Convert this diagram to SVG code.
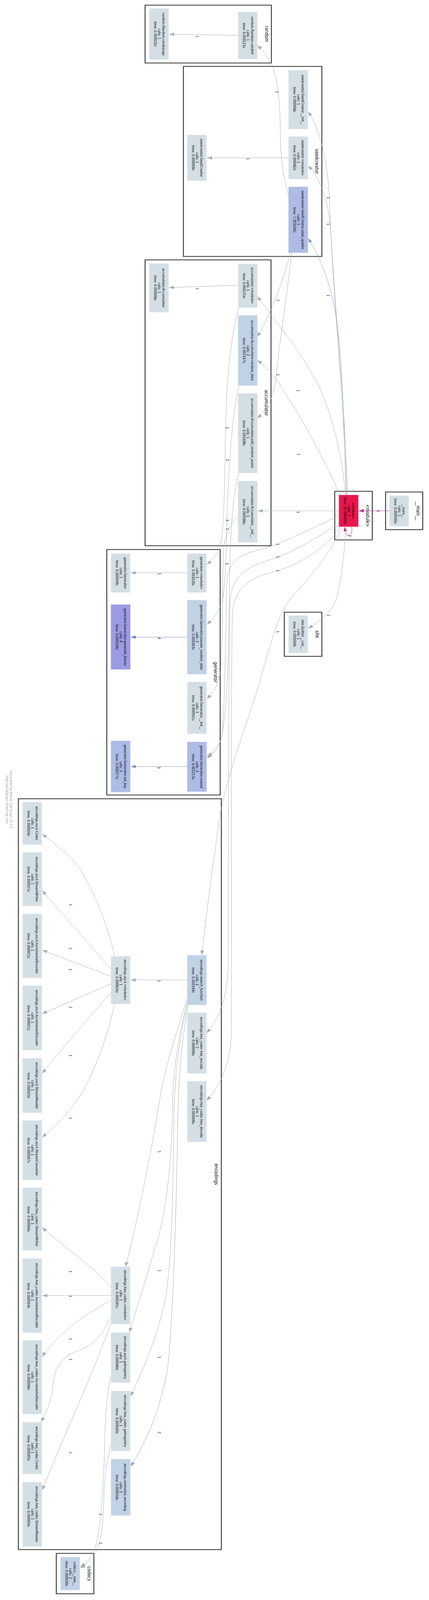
<svg xmlns="http://www.w3.org/2000/svg" width="1097" height="4671" viewBox="0 0 1097 4671">
<style>
.cl{fill:#fff;stroke:#3c3c3c;stroke-width:2.4}
.ct{font-family:"DejaVu Sans",Verdana,sans-serif;font-size:12.2px;text-anchor:middle;fill:#000}
.nt{font-family:"DejaVu Sans",Verdana,sans-serif;font-size:9px;text-anchor:middle;fill:#000}
.c0{fill:#d3dfe5;stroke:#e1e9ed;stroke-width:1}
.c1{fill:#c1d2e6;stroke:#d0dcec;stroke-width:1}
.c2{fill:#adbbe6;stroke:#bcc7ec;stroke-width:1}
.c3{fill:#9b9be3;stroke:#aaaaea;stroke-width:1}
.c4{fill:#e8174b;stroke:#ee3c66;stroke-width:1}
.e{fill:none;stroke:#a6afb4;stroke-width:1;marker-end:url(#ag)}
.em{stroke:#b4359c;marker-end:url(#am)}
.er{stroke:#b32373;marker-end:url(#ar)}
.eb{stroke:#8d9bc4;marker-end:url(#ab)}
.ep{stroke:#7f80c6;marker-end:url(#ap)}
.es{stroke:#8894b8;marker-end:url(#as)}
.en{stroke:#98a4ba;marker-end:url(#an)}
.lt{font-family:"DejaVu Sans",Verdana,sans-serif;font-size:9px;text-anchor:middle;fill:#000}
.gl{font-family:"DejaVu Sans",Verdana,sans-serif;font-size:8.6px;text-anchor:middle;fill:#9a9a9a}
</style>
<defs>
<marker id="ag" viewBox="0 0 13 10" refX="13" refY="5" markerWidth="13" markerHeight="10" markerUnits="userSpaceOnUse" orient="auto"><path d="M0,0 L13,5 L0,10 z" fill="#a6afb4"/></marker>
<marker id="am" viewBox="0 0 13 10" refX="13" refY="5" markerWidth="13" markerHeight="10" markerUnits="userSpaceOnUse" orient="auto"><path d="M0,0 L13,5 L0,10 z" fill="#b4359c"/></marker>
<marker id="ar" viewBox="0 0 13 10" refX="13" refY="5" markerWidth="12" markerHeight="9" markerUnits="userSpaceOnUse" orient="auto"><path d="M0,0 L13,5 L0,10 z" fill="#b32373"/></marker>
<marker id="ab" viewBox="0 0 13 10" refX="13" refY="5" markerWidth="13" markerHeight="10" markerUnits="userSpaceOnUse" orient="auto"><path d="M0,0 L13,5 L0,10 z" fill="#8d9bc4"/></marker>
<marker id="ap" viewBox="0 0 13 10" refX="13" refY="5" markerWidth="13" markerHeight="10" markerUnits="userSpaceOnUse" orient="auto"><path d="M0,0 L13,5 L0,10 z" fill="#7f80c6"/></marker>
<marker id="as" viewBox="0 0 13 10" refX="13" refY="5" markerWidth="13" markerHeight="10" markerUnits="userSpaceOnUse" orient="auto"><path d="M0,0 L13,5 L0,10 z" fill="#8894b8"/></marker>
<marker id="an" viewBox="0 0 13 10" refX="13" refY="5" markerWidth="13" markerHeight="10" markerUnits="userSpaceOnUse" orient="auto"><path d="M0,0 L13,5 L0,10 z" fill="#98a4ba"/></marker>
</defs>
<rect x="0" y="0" width="1097" height="4671" fill="#fff"/>
<g id="diagram" transform="scale(1,0.8765)">

<g id="clusters">
<g id="cluster_random"><rect class="cl" x="371" y="15" width="323" height="169"/><text class="ct" transform="translate(677.6,99) rotate(90)">random</text></g>
<g id="cluster_seedcreator"><rect class="cl" x="469" y="194" width="354" height="555"/><text class="ct" transform="translate(805.6,471.5) rotate(90)">seedcreator</text></g>
<g id="cluster_accumulator"><rect class="cl" x="371" y="759" width="322" height="835"/><text class="ct" transform="translate(676.6,1176.5) rotate(90)">accumulator</text></g>
<g id="cluster_generator"><rect class="cl" x="273" y="1605" width="290" height="717"/><text class="ct" transform="translate(546.6,1963.5) rotate(90)">generator</text></g>
<g id="cluster_encodings"><rect class="cl" x="47" y="2333" width="519" height="2193"/><text class="ct" transform="translate(548.6,3429.5) rotate(90)">encodings</text></g>
<g id="cluster_codecs"><rect class="cl" x="144" y="4537" width="96" height="118"/><text class="ct" transform="translate(223.6,4596) rotate(90)">codecs</text></g>
<g id="cluster_site"><rect class="cl" x="727" y="1788" width="96" height="129"/><text class="ct" transform="translate(806.6,1852.5) rotate(90)">site</text></g>
<g id="cluster_module"><rect class="cl" x="856" y="1435" width="96" height="142"/><text class="ct" transform="translate(935.6,1506) rotate(90)">&lt;module&gt;</text></g>
<g id="cluster_main"><rect class="cl" x="986" y="1437" width="95" height="110"/><text class="ct" transform="translate(1064.6,1492) rotate(90)">__main__</text></g>
</g>

<g id="connectors">
<path class="e em" d="M996,1492 L917,1492"/>
<path class="e er" d="M899,1538 C902,1552 898,1564 890,1564 C885,1564 883,1556 882,1540"/>
<path class="e" d="M867,1492 L659,1492"/>
<path class="e" d="M889,1446 C884,1200 848,800 843,600 C841,500 825,390 788,326"/>
<path class="e" d="M887,1446 C880,1200 852,850 847,700 C843,600 825,530 788,484"/>
<path class="e eb" d="M885,1446 C880,1250 876,1050 860,930 C845,820 815,745 788,696"/>
<path class="e" d="M883,1446 C876,1330 850,1220 822,1145 C790,1060 720,960 658,866"/>
<path class="e" d="M869,1446 C830,1340 770,1220 730,1150 C710,1110 690,1080 658,1052"/>
<path class="e" d="M738,573 C725,520 717,460 717,400 C717,320 712,250 700,205 C690,172 676,152 658,132"/>
<path class="e" d="M742,738 C730,800 700,900 658,984"/>
<path class="e" d="M746,738 C735,850 715,1000 705,1110 C700,1160 682,1195 658,1222"/>
<path class="e" d="M609,103 L432,100"/>
<path class="e" d="M738,461 L529,461"/>
<path class="e" d="M609,833 L432,840"/>
<path class="e" d="M479,1673 L334,1673"/>
<path class="e ep" d="M479,1861 L334,1861"/>
<path class="e es" d="M479,2239 L334,2239"/>
<path class="e" d="M479,2862 L334,2862"/>
<path class="e" d="M884,1540 C881,1620 872,1700 860,1750 C850,1785 822,1810 788,1836"/>
<path class="e" d="M611,898 C585,1000 578,1150 576,1300 C574,1450 572,1560 562,1600 C554,1622 542,1637 529,1649"/>
<path class="e" d="M611,1126 C595,1200 585,1350 581,1500 C578,1620 577,1690 571,1740 C565,1780 548,1805 529,1824"/>
<path class="e" d="M610,1381 C595,1450 589,1550 587,1700 C585,1900 582,2100 563,2165 C554,2190 542,2203 529,2215"/>
<path class="e" d="M608,1508 C590,1530 573,1560 571,1620 C569,1750 569,1900 564,1960 C559,2000 546,2022 529,2041"/>
<path class="e" d="M867,1506 C820,1530 720,1590 660,1607 C610,1620 584,1640 580,1700 C576,1900 575,2100 565,2160 C558,2185 546,2200 529,2208"/>
<path class="e" d="M867,1526 C840,1550 760,1610 690,1635 C620,1660 592,1690 588,1760 C584,2000 584,2600 584,2800 C584,2900 565,2970 528,3017"/>
<path class="e" d="M870,1538 C845,1590 770,1650 700,1670 C630,1690 598,1720 594,1800 C590,2100 592,2800 592,3000 C592,3100 566,3170 528,3214"/>
<path class="e" d="M874,1540 C850,1610 790,1690 745,1745 C712,1790 692,1880 672,1960 C645,2080 580,2250 560,2400 C548,2500 530,2640 516,2789"/>
<path class="e" d="M293,2793 C275,2700 240,2600 200,2530 C170,2490 135,2460 108,2436"/>
<path class="e" d="M285,2832 C230,2760 160,2670 108,2601"/>
<path class="e" d="M284,2852 L108,2775"/>
<path class="e" d="M284,2873 L108,2961"/>
<path class="e" d="M285,2897 C230,2970 160,3060 108,3135"/>
<path class="e" d="M293,2933 C270,3050 230,3170 180,3240 C160,3270 132,3296 108,3322"/>
<path class="e" d="M479,2913 C460,2990 425,3100 410,3200 C390,3350 345,3600 321,3699"/>
<path class="e" d="M481,2915 C462,3000 445,3100 442,3200 C440,3400 425,3550 395,3650 C375,3730 350,3820 331,3891"/>
<path class="e" d="M483,2915 C465,3000 448,3100 445,3250 C442,3500 440,3650 425,3780 C405,3900 370,3990 334,4078"/>
<path class="e en" d="M485,2914 C470,3000 458,3100 455,3250 C450,3600 440,3900 428,4000 C410,4120 370,4220 334,4283"/>
<path class="e" d="M284,3759 C240,3700 160,3640 108,3585"/>
<path class="e" d="M284,3784 L108,3784"/>
<path class="e" d="M284,3798 C230,3830 150,3890 108,3962"/>
<path class="e" d="M284,3845 C260,3900 240,3930 200,3945 C150,3965 140,4000 135,4050 C130,4100 116,4130 105,4153"/>
<path class="e" d="M288,3850 C250,3980 150,4230 108,4352"/>
<path class="e" d="M284,4018 C275,4060 270,4110 268,4200 C265,4350 258,4450 245,4515 C237,4545 225,4563 205,4576"/>
<path class="e" d="M285,4213 C275,4260 268,4300 266,4360 C264,4440 262,4480 250,4520 C240,4550 226,4568 205,4580"/>

<g id="edge-labels">
<text class="lt" transform="translate(963.8,1493) rotate(90)">1</text>
<text class="lt" transform="translate(890.8,1565) rotate(90)">2</text>
<text class="lt" transform="translate(758.8,1496) rotate(90)">1</text>
<text class="lt" transform="translate(835.8,578) rotate(90)">1</text>
<text class="lt" transform="translate(835.8,655) rotate(90)">1</text>
<text class="lt" transform="translate(835.8,863) rotate(90)">1</text>
<text class="lt" transform="translate(758.8,1141) rotate(90)">1</text>
<text class="lt" transform="translate(759.8,1327) rotate(90)">1</text>
<text class="lt" transform="translate(704.8,269) rotate(90)">1</text>
<text class="lt" transform="translate(706.8,877) rotate(90)">1</text>
<text class="lt" transform="translate(706.8,1095) rotate(90)">1</text>
<text class="lt" transform="translate(500.8,107) rotate(90)">1</text>
<text class="lt" transform="translate(630.8,464) rotate(90)">1</text>
<text class="lt" transform="translate(500.8,843) rotate(90)">1</text>
<text class="lt" transform="translate(403.8,1676) rotate(90)">1</text>
<text class="lt" transform="translate(403.8,1864) rotate(90)">4</text>
<text class="lt" transform="translate(402.8,2242) rotate(90)">3</text>
<text class="lt" transform="translate(402.8,2865) rotate(90)">1</text>
<text class="lt" transform="translate(836.8,1797) rotate(90)">1</text>
<text class="lt" transform="translate(706.8,1590) rotate(90)">1</text>
<text class="lt" transform="translate(706.8,1627) rotate(90)">1</text>
<text class="lt" transform="translate(706.8,1667) rotate(90)">1</text>
<text class="lt" transform="translate(706.8,1845) rotate(90)">1</text>
<text class="lt" transform="translate(577.8,1250) rotate(90)">1</text>
<text class="lt" transform="translate(577.8,1343) rotate(90)">2</text>
<text class="lt" transform="translate(577.8,1520) rotate(90)">2</text>
<text class="lt" transform="translate(577.8,1545) rotate(90)">1</text>
<text class="lt" transform="translate(576.8,1647) rotate(90)">1</text>
<text class="lt" transform="translate(176.8,2643) rotate(90)">1</text>
<text class="lt" transform="translate(176.8,2770) rotate(90)">1</text>
<text class="lt" transform="translate(176.8,2832) rotate(90)">1</text>
<text class="lt" transform="translate(176.8,2942) rotate(90)">1</text>
<text class="lt" transform="translate(176.8,3083) rotate(90)">1</text>
<text class="lt" transform="translate(176.8,3266) rotate(90)">1</text>
<text class="lt" transform="translate(176.8,3714) rotate(90)">1</text>
<text class="lt" transform="translate(176.8,3786) rotate(90)">1</text>
<text class="lt" transform="translate(176.8,3911) rotate(90)">1</text>
<text class="lt" transform="translate(176.8,3971) rotate(90)">1</text>
<text class="lt" transform="translate(176.8,4243) rotate(90)">1</text>
<text class="lt" transform="translate(403.8,3364) rotate(90)">1</text>
<text class="lt" transform="translate(403.8,3711) rotate(90)">1</text>
<text class="lt" transform="translate(403.8,3964) rotate(90)">1</text>
<text class="lt" transform="translate(403.8,4184) rotate(90)">2</text>
<text class="lt" transform="translate(253.8,4423) rotate(90)">1</text>
<text class="lt" transform="translate(253.8,4507) rotate(90)">1</text>
</g>
</g>

<g id="nodes">
<g id="n_main"><rect class="c0" x="996" y="1448" width="49" height="89"/><text class="nt" transform="translate(1028.8,1492.5) rotate(90)"><tspan x="0">__main__</tspan><tspan x="0" dy="10.5">calls: 1</tspan><tspan x="0" dy="10.5">time: 0.000000s</tspan></text></g>
<g id="n_module"><rect class="c4" x="867" y="1446" width="49" height="92"/><text class="nt" transform="translate(899.8,1492) rotate(90)"><tspan x="0">&lt;module&gt;</tspan><tspan x="0" dy="10.5">calls: 3</tspan><tspan x="0" dy="10.5">time: 32.084920s</tspan></text></g>
<g id="n_site_call"><rect class="c0" x="738" y="1798" width="49" height="109"/><text class="nt" transform="translate(770.8,1852.5) rotate(90)"><tspan x="0">site.Quitter.__call__</tspan><tspan x="0" dy="10.5">calls: 1</tspan><tspan x="0" dy="10.5">time: 0.000009s</tspan></text></g>
<g id="n_sc_init"><rect class="c0" x="738" y="205" width="49" height="172"/><text class="nt" transform="translate(770.8,291) rotate(90)"><tspan x="0">seedcreator.SeedCreator.__init__</tspan><tspan x="0" dy="10.5">calls: 1</tspan><tspan x="0" dy="10.5">time: 0.000008s</tspan></text></g>
<g id="n_sc_module"><rect class="c0" x="738" y="399" width="49" height="124"/><text class="nt" transform="translate(770.8,461) rotate(90)"><tspan x="0">seedcreator.&lt;module&gt;</tspan><tspan x="0" dy="10.5">calls: 1</tspan><tspan x="0" dy="10.5">time: 0.000082s</tspan></text></g>
<g id="n_sc_update"><rect class="c2" x="738" y="546" width="49" height="192"/><text class="nt" transform="translate(770.8,642) rotate(90)"><tspan x="0">seedcreator.SeedCreator.seed_update</tspan><tspan x="0" dy="10.5">calls: 1</tspan><tspan x="0" dy="10.5">time: 7.355036s</tspan></text></g>
<g id="n_sc_class"><rect class="c0" x="479" y="394" width="49" height="134"/><text class="nt" transform="translate(511.8,461) rotate(90)"><tspan x="0">seedcreator.SeedCreator</tspan><tspan x="0" dy="10.5">calls: 1</tspan><tspan x="0" dy="10.5">time: 0.000009s</tspan></text></g>
<g id="n_randint"><rect class="c0" x="609" y="35" width="49" height="137"/><text class="nt" transform="translate(641.8,103.5) rotate(90)"><tspan x="0">random.Random.randint</tspan><tspan x="0" dy="10.5">calls: 1</tspan><tspan x="0" dy="10.5">time: 0.000123s</tspan></text></g>
<g id="n_randrange"><rect class="c0" x="382" y="25" width="49" height="149"/><text class="nt" transform="translate(414.8,99.5) rotate(90)"><tspan x="0">random.Random.randrange</tspan><tspan x="0" dy="10.5">calls: 1</tspan><tspan x="0" dy="10.5">time: 0.000032s</tspan></text></g>
<g id="n_acc_module"><rect class="c0" x="609" y="771" width="49" height="127"/><text class="nt" transform="translate(641.8,834.5) rotate(90)"><tspan x="0">accumulator.&lt;module&gt;</tspan><tspan x="0" dy="10.5">calls: 1</tspan><tspan x="0" dy="10.5">time: 0.004153s</tspan></text></g>
<g id="n_acc_class"><rect class="c0" x="382" y="770" width="49" height="142"/><text class="nt" transform="translate(414.8,841) rotate(90)"><tspan x="0">accumulator.Accumulator</tspan><tspan x="0" dy="10.5">calls: 1</tspan><tspan x="0" dy="10.5">time: 0.000008s</tspan></text></g>
<g id="n_acc_random"><rect class="c1" x="609" y="921" width="49" height="205"/><text class="nt" transform="translate(641.8,1023.5) rotate(90)"><tspan x="0">accumulator.Accumulator.random_data</tspan><tspan x="0" dy="10.5">calls: 2</tspan><tspan x="0" dy="10.5">time: 0.001547s</tspan></text></g>
<g id="n_acc_add"><rect class="c0" x="609" y="1149" width="49" height="232"/><text class="nt" transform="translate(641.8,1265) rotate(90)"><tspan x="0">accumulator.Accumulator.add_random_event</tspan><tspan x="0" dy="10.5">calls: 1</tspan><tspan x="0" dy="10.5">time: 0.001698s</tspan></text></g>
<g id="n_acc_init"><rect class="c0" x="609" y="1405" width="49" height="179"/><text class="nt" transform="translate(641.8,1494.5) rotate(90)"><tspan x="0">accumulator.Accumulator.__init__</tspan><tspan x="0" dy="10.5">calls: 1</tspan><tspan x="0" dy="10.5">time: 0.000586s</tspan></text></g>
<g id="n_gen_module"><rect class="c0" x="479" y="1617" width="49" height="113"/><text class="nt" transform="translate(511.8,1673.5) rotate(90)"><tspan x="0">generator.&lt;module&gt;</tspan><tspan x="0" dy="10.5">calls: 1</tspan><tspan x="0" dy="10.5">time: 0.003226s</tspan></text></g>
<g id="n_gen_class"><rect class="c0" x="284" y="1617" width="49" height="113"/><text class="nt" transform="translate(316.8,1673.5) rotate(90)"><tspan x="0">generator.Generator</tspan><tspan x="0" dy="10.5">calls: 1</tspan><tspan x="0" dy="10.5">time: 0.000009s</tspan></text></g>
<g id="n_gen_pseudo"><rect class="c1" x="479" y="1753" width="49" height="216"/><text class="nt" transform="translate(511.8,1861) rotate(90)"><tspan x="0">generator.Generator.pseudo_random_data</tspan><tspan x="0" dy="10.5">calls: 2</tspan><tspan x="0" dy="10.5">time: 0.000303s</tspan></text></g>
<g id="n_gen_blocks"><rect class="c3" x="284" y="1766" width="49" height="189"/><text class="nt" transform="translate(316.8,1860.5) rotate(90)"><tspan x="0">generator.Generator.generate_blocks</tspan><tspan x="0" dy="10.5">calls: 4</tspan><tspan x="0" dy="10.5">time: 0.000194s</tspan></text></g>
<g id="n_gen_init"><rect class="c0" x="479" y="1992" width="49" height="151"/><text class="nt" transform="translate(511.8,2067.5) rotate(90)"><tspan x="0">generator.Generator.__init__</tspan><tspan x="0" dy="10.5">calls: 1</tspan><tspan x="0" dy="10.5">time: 0.000501s</tspan></text></g>
<g id="n_gen_reseed"><rect class="c2" x="479" y="2167" width="49" height="145"/><text class="nt" transform="translate(511.8,2239.5) rotate(90)"><tspan x="0">generator.Generator.reseed</tspan><tspan x="0" dy="10.5">calls: 3</tspan><tspan x="0" dy="10.5">time: 0.001213s</tspan></text></g>
<g id="n_gen_setkey"><rect class="c2" x="284" y="2164" width="49" height="149"/><text class="nt" transform="translate(316.8,2238.5) rotate(90)"><tspan x="0">generator.Generator.set_key</tspan><tspan x="0" dy="10.5">calls: 3</tspan><tspan x="0" dy="10.5">time: 0.000377s</tspan></text></g>
<g id="n_ea_codec"><rect class="c0" x="58" y="2343" width="49" height="124"/><text class="nt" transform="translate(90.8,2405) rotate(90)"><tspan x="0">encodings.ascii.Codec</tspan><tspan x="0" dy="10.5">calls: 1</tspan><tspan x="0" dy="10.5">time: 0.000016s</tspan></text></g>
<g id="n_ea_sw"><rect class="c0" x="58" y="2490" width="49" height="156"/><text class="nt" transform="translate(90.8,2568) rotate(90)"><tspan x="0">encodings.ascii.StreamWriter</tspan><tspan x="0" dy="10.5">calls: 1</tspan><tspan x="0" dy="10.5">time: 0.000011s</tspan></text></g>
<g id="n_ea_ie"><rect class="c0" x="58" y="2669" width="49" height="187"/><text class="nt" transform="translate(90.8,2762.5) rotate(90)"><tspan x="0">encodings.ascii.IncrementalEncoder</tspan><tspan x="0" dy="10.5">calls: 1</tspan><tspan x="0" dy="10.5">time: 0.000011s</tspan></text></g>
<g id="n_ea_id"><rect class="c0" x="58" y="2879" width="49" height="188"/><text class="nt" transform="translate(90.8,2973) rotate(90)"><tspan x="0">encodings.ascii.IncrementalDecoder</tspan><tspan x="0" dy="10.5">calls: 1</tspan><tspan x="0" dy="10.5">time: 0.000011s</tspan></text></g>
<g id="n_ea_sr"><rect class="c0" x="58" y="3091" width="49" height="159"/><text class="nt" transform="translate(90.8,3170.5) rotate(90)"><tspan x="0">encodings.ascii.StreamReader</tspan><tspan x="0" dy="10.5">calls: 1</tspan><tspan x="0" dy="10.5">time: 0.000033s</tspan></text></g>
<g id="n_ea_sc"><rect class="c0" x="58" y="3273" width="49" height="173"/><text class="nt" transform="translate(90.8,3359.5) rotate(90)"><tspan x="0">encodings.ascii.StreamConverter</tspan><tspan x="0" dy="10.5">calls: 1</tspan><tspan x="0" dy="10.5">time: 0.000007s</tspan></text></g>
<g id="n_eh_sw"><rect class="c0" x="58" y="3469" width="49" height="183"/><text class="nt" transform="translate(90.8,3560.5) rotate(90)"><tspan x="0">encodings.hex_codec.StreamWriter</tspan><tspan x="0" dy="10.5">calls: 1</tspan><tspan x="0" dy="10.5">time: 0.000004s</tspan></text></g>
<g id="n_eh_ie"><rect class="c0" x="58" y="3676" width="49" height="216"/><text class="nt" transform="translate(90.8,3784) rotate(90)"><tspan x="0">encodings.hex_codec.IncrementalEncoder</tspan><tspan x="0" dy="10.5">calls: 1</tspan><tspan x="0" dy="10.5">time: 0.000004s</tspan></text></g>
<g id="n_eh_id"><rect class="c0" x="58" y="3915" width="49" height="215"/><text class="nt" transform="translate(90.8,4022.5) rotate(90)"><tspan x="0">encodings.hex_codec.IncrementalDecoder</tspan><tspan x="0" dy="10.5">calls: 1</tspan><tspan x="0" dy="10.5">time: 0.000006s</tspan></text></g>
<g id="n_eh_codec"><rect class="c0" x="58" y="4154" width="49" height="151"/><text class="nt" transform="translate(90.8,4229.5) rotate(90)"><tspan x="0">encodings.hex_codec.Codec</tspan><tspan x="0" dy="10.5">calls: 1</tspan><tspan x="0" dy="10.5">time: 0.000005s</tspan></text></g>
<g id="n_eh_sr"><rect class="c0" x="58" y="4329" width="49" height="188"/><text class="nt" transform="translate(90.8,4423) rotate(90)"><tspan x="0">encodings.hex_codec.StreamReader</tspan><tspan x="0" dy="10.5">calls: 1</tspan><tspan x="0" dy="10.5">time: 0.000004s</tspan></text></g>
<g id="n_ea_module"><rect class="c0" x="284" y="2793" width="49" height="139"/><text class="nt" transform="translate(316.8,2862.5) rotate(90)"><tspan x="0">encodings.ascii.&lt;module&gt;</tspan><tspan x="0" dy="10.5">calls: 1</tspan><tspan x="0" dy="10.5">time: 0.000624s</tspan></text></g>
<g id="n_eh_module"><rect class="c0" x="284" y="3700" width="49" height="167"/><text class="nt" transform="translate(316.8,3783.5) rotate(90)"><tspan x="0">encodings.hex_codec.&lt;module&gt;</tspan><tspan x="0" dy="10.5">calls: 1</tspan><tspan x="0" dy="10.5">time: 0.000291s</tspan></text></g>
<g id="n_ea_getreg"><rect class="c0" x="284" y="3892" width="49" height="146"/><text class="nt" transform="translate(316.8,3965) rotate(90)"><tspan x="0">encodings.ascii.getregentry</tspan><tspan x="0" dy="10.5">calls: 1</tspan><tspan x="0" dy="10.5">time: 0.000060s</tspan></text></g>
<g id="n_eh_getreg"><rect class="c0" x="284" y="4063" width="49" height="175"/><text class="nt" transform="translate(316.8,4150.5) rotate(90)"><tspan x="0">encodings.hex_codec.getregentry</tspan><tspan x="0" dy="10.5">calls: 1</tspan><tspan x="0" dy="10.5">time: 0.000040s</tspan></text></g>
<g id="n_e_norm"><rect class="c1" x="284" y="4262" width="49" height="164"/><text class="nt" transform="translate(316.8,4344) rotate(90)"><tspan x="0">encodings.normalize_encoding</tspan><tspan x="0" dy="10.5">calls: 2</tspan><tspan x="0" dy="10.5">time: 0.000018s</tspan></text></g>
<g id="n_e_search"><rect class="c1" x="479" y="2790" width="49" height="145"/><text class="nt" transform="translate(511.8,2862.5) rotate(90)"><tspan x="0">encodings.search_function</tspan><tspan x="0" dy="10.5">calls: 2</tspan><tspan x="0" dy="10.5">time: 0.002249s</tspan></text></g>
<g id="n_eh_enc"><rect class="c0" x="479" y="2958" width="49" height="177"/><text class="nt" transform="translate(511.8,3046.5) rotate(90)"><tspan x="0">encodings.hex_codec.hex_encode</tspan><tspan x="0" dy="10.5">calls: 1</tspan><tspan x="0" dy="10.5">time: 0.000006s</tspan></text></g>
<g id="n_eh_dec"><rect class="c0" x="479" y="3158" width="49" height="177"/><text class="nt" transform="translate(511.8,3246.5) rotate(90)"><tspan x="0">encodings.hex_codec.hex_decode</tspan><tspan x="0" dy="10.5">calls: 1</tspan><tspan x="0" dy="10.5">time: 0.000006s</tspan></text></g>
<g id="n_codecs_new"><rect class="c1" x="155" y="4548" width="49" height="96"/><text class="nt" transform="translate(187.8,4596) rotate(90)"><tspan x="0">codecs.__new__</tspan><tspan x="0" dy="10.5">calls: 2</tspan><tspan x="0" dy="10.5">time: 0.000030s</tspan></text></g>
</g>

<g id="graph-label">
<text class="gl" transform="translate(24.9,2335) rotate(90)"><tspan x="0">Generated by Python Call Graph v1.0.1</tspan><tspan x="0" dy="10">http://pycallgraph.slowchop.com</tspan></text>
</g>
</g>
</svg>
